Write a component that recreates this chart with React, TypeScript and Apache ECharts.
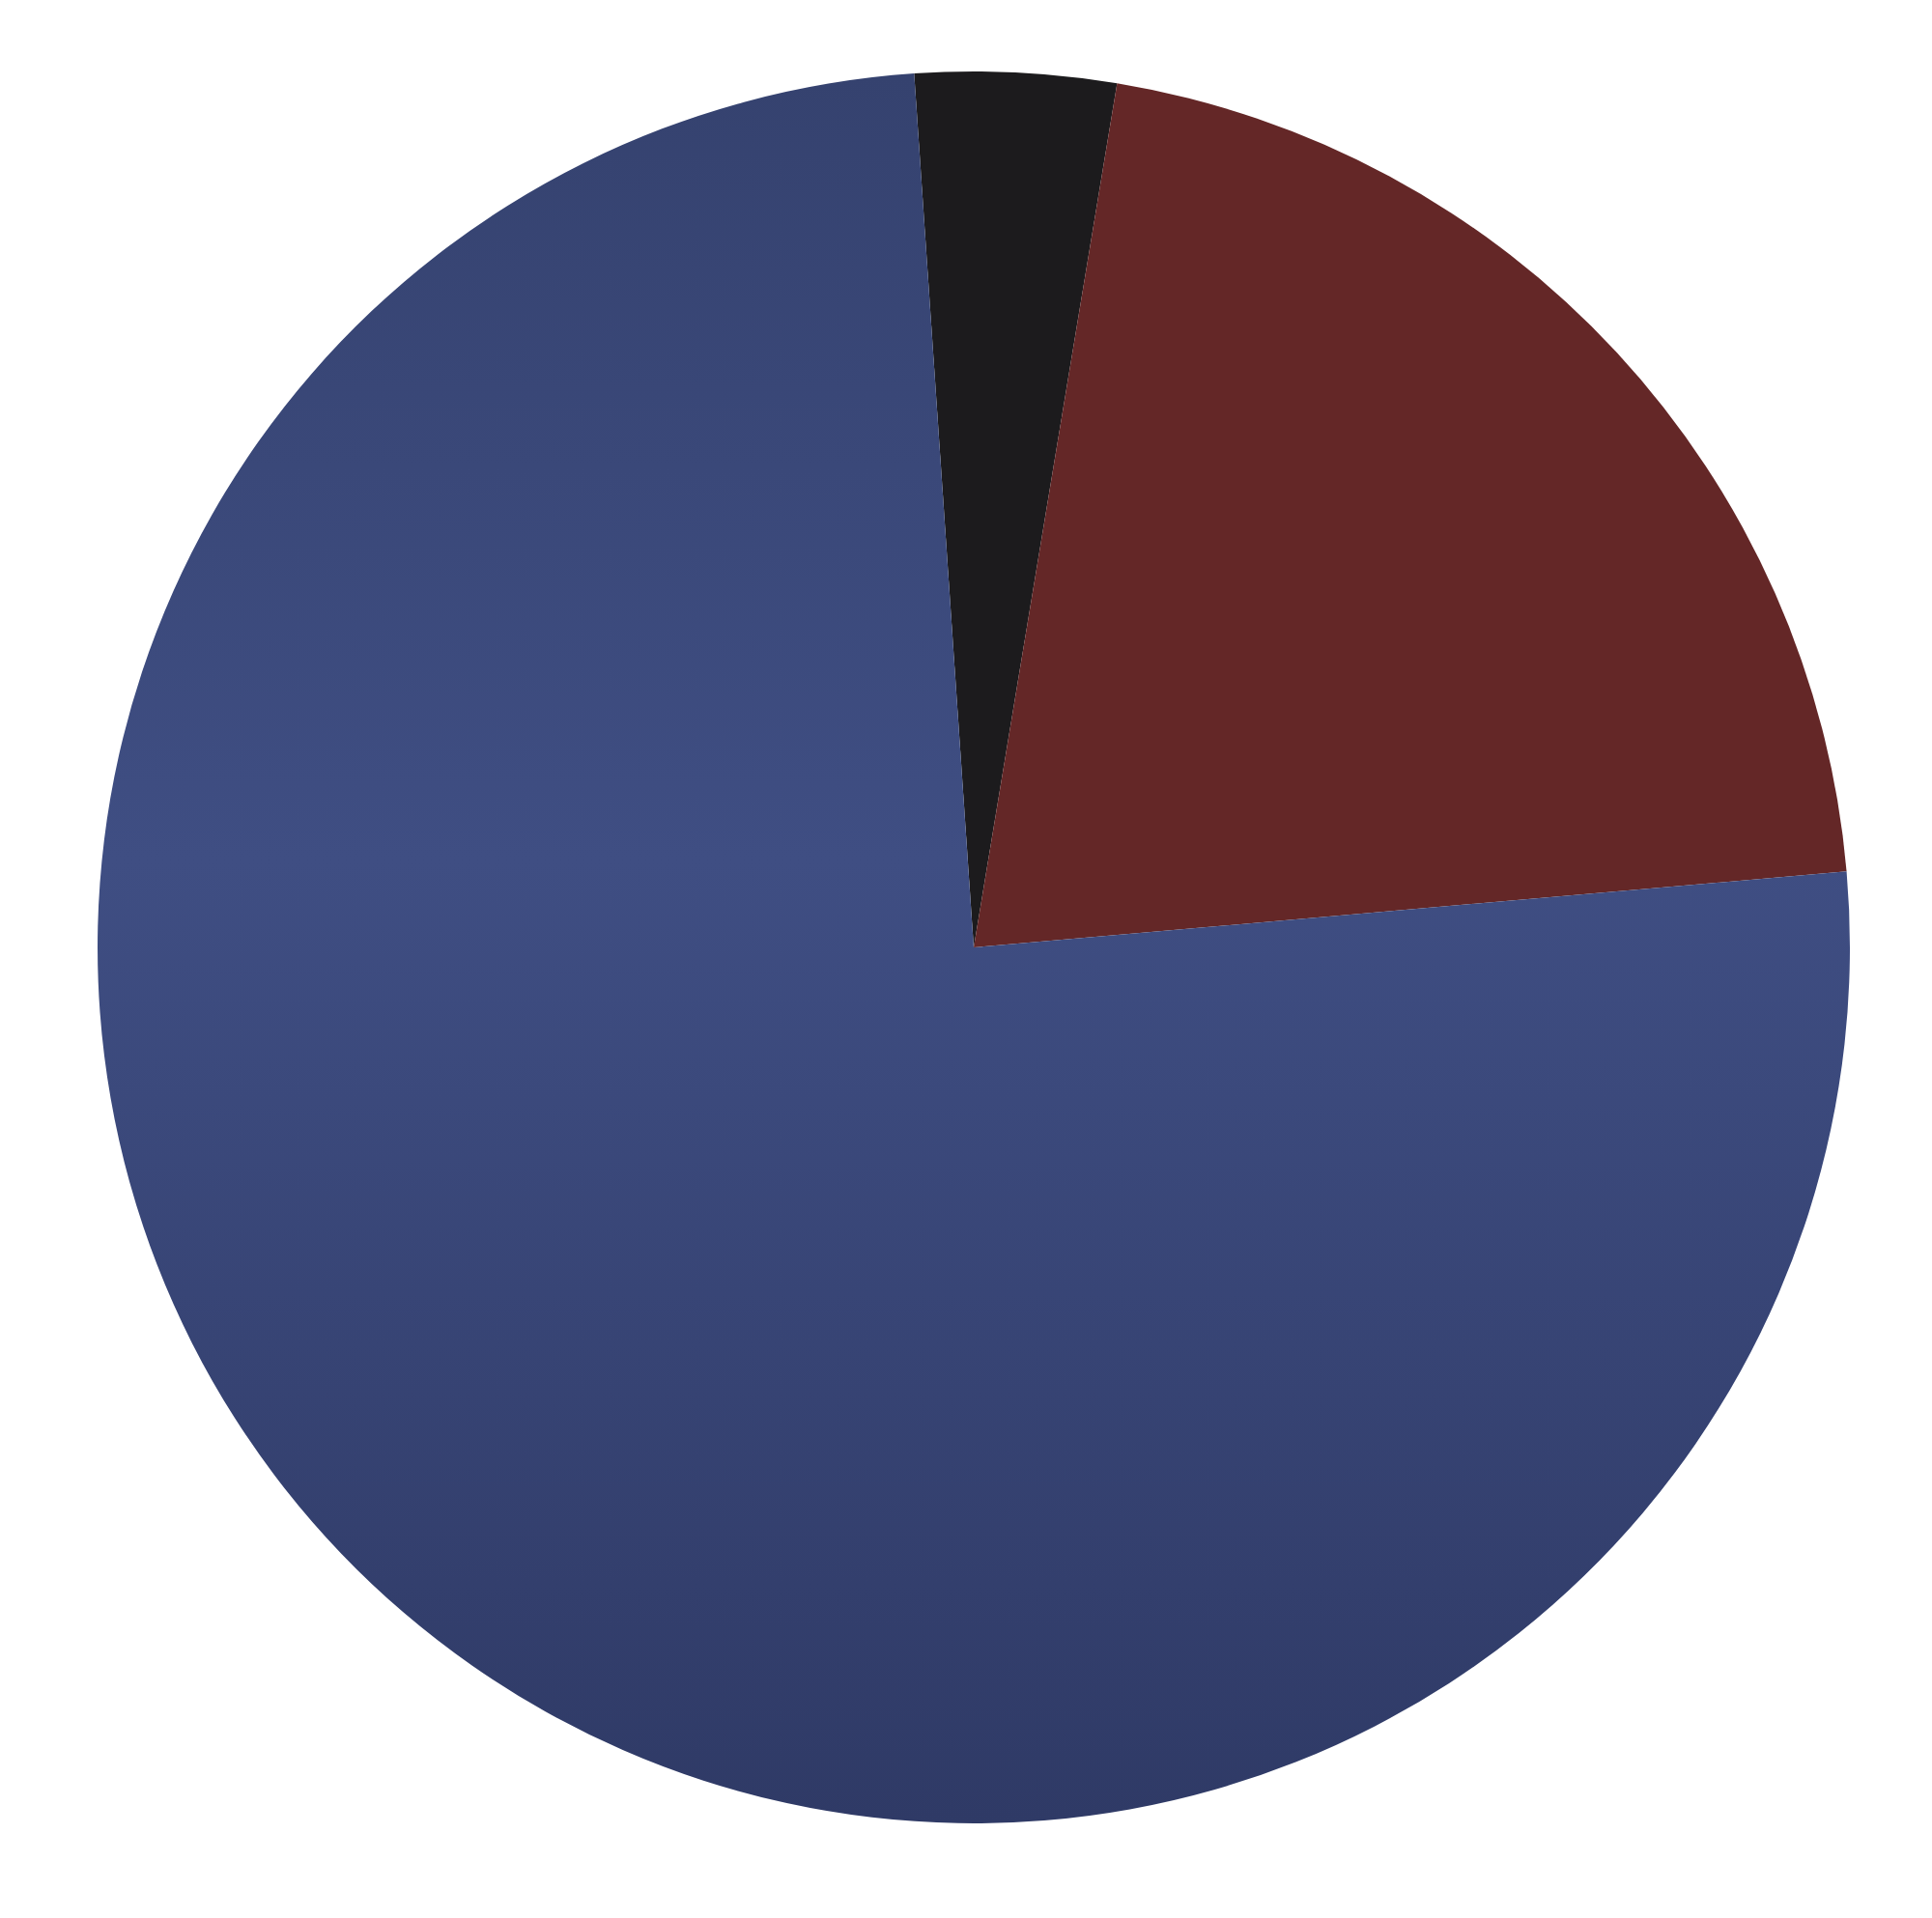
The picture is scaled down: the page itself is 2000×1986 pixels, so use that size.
import { useEffect, useRef } from 'react';
import * as echarts from 'echarts';

// slices, clockwise from the top
const sliceNames = ['Black', 'Red', 'Blue'];
const sliceValues = [3.7, 21.0, 75.3];

const blueFill = new echarts.graphic.LinearGradient(0, 0, 0, 1, [
    { offset: 0, color: '#35426f' },
    { offset: 0.45, color: '#3f4e83' },
    { offset: 1, color: '#2f3a66' }
]);
const sliceColors = ['#1c1b1d', '#642727', blueFill];

const App: React.FC = () => {
    const chartRef = useRef<HTMLDivElement>(null);

    useEffect(() => {
        if (!chartRef.current) return;
        const chart = echarts.init(chartRef.current, undefined, { renderer: 'svg' });

        chart.setOption({
            animation: false,
            backgroundColor: '#ffffff',
            tooltip: { show: false },
            legend: { show: false },
            series: [
                {
                    type: 'pie',
                    center: [1008, 981],
                    radius: 907,
                    startAngle: 93.9,
                    clockwise: true,
                    label: { show: false },
                    labelLine: { show: false },
                    itemStyle: { borderWidth: 0 },
                    emphasis: { disabled: true },
                    data: sliceNames.map((name, i) => ({
                        name,
                        value: sliceValues[i],
                        itemStyle: { color: sliceColors[i] }
                    }))
                }
            ]
        });

        return () => {
            chart.dispose();
        };
    }, []);

    return (
        <div
            ref={chartRef}
            style={{ position: 'absolute', left: 0, top: 0, width: '2000px', height: '1986px' }}
        />
    );
};

export default App;
